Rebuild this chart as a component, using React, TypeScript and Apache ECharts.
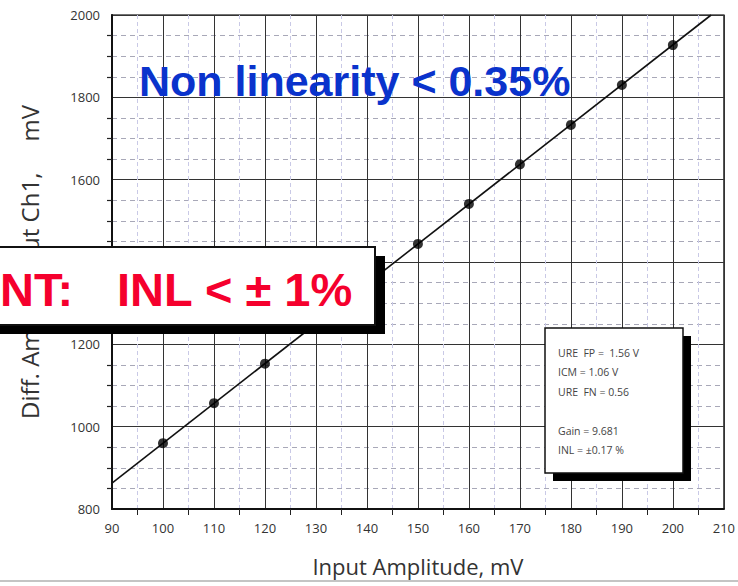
import React, { useEffect, useRef } from "react";
import * as echarts from "echarts";

// Measured transfer points (input amplitude, mV -> differential amp output, mV)
const inputMv = [100, 110, 120, 130, 140, 150, 160, 170, 180, 190, 200];
const outputMv = [960, 1057, 1153, 1250, 1347, 1444, 1541, 1637, 1733, 1830, 1927];

// Linear fit drawn across the plot
const fitX = [90, 207.5];
const fitY = [863, 2000];

const xTicks = { min: 90, max: 210, step: 10 };
const yTicks = { min: 800, max: 2000, step: 200 };

const statsLines = [
  "URE  FP =  1.56 V",
  "ICM = 1.06 V",
  "URE  FN = 0.56",
  "",
  "Gain = 9.681",
  "INL = ±0.17 %",
];

const axisFont = "'Open Sans', 'Noto Sans', sans-serif";

export default function App() {
  const ref = useRef<HTMLDivElement>(null);

  useEffect(() => {
    if (!ref.current) return;
    const chart = echarts.init(ref.current, undefined, { renderer: "svg" });

    const statsText = statsLines.map((t, i) => ({
      type: "text",
      z: 20,
      style: {
        x: 558,
        y: 353 + i * 19.4,
        text: t,
        fill: "#444",
        font: `10.5px ${axisFont}`,
        textVerticalAlign: "middle",
      },
    }));

    chart.setOption({
      animation: false,
      backgroundColor: "#ffffff",
      grid: { left: 112, top: 15, width: 612, height: 494, show: true, borderColor: "#444", borderWidth: 1.5 },
      xAxis: {
        type: "value",
        min: xTicks.min,
        max: xTicks.max,
        interval: xTicks.step,
        name: "Input Amplitude, mV",
        nameLocation: "middle",
        nameGap: 46,
        nameTextStyle: { fontFamily: axisFont, fontSize: 22, color: "#333" },
        axisLine: { lineStyle: { color: "#111", width: 2 } },
        axisTick: { show: false },
        minorTick: { show: true, splitNumber: 2, length: 6, lineStyle: { color: "#222", width: 1 } },
        axisLabel: { fontFamily: axisFont, fontSize: 13, color: "#333", margin: 12 },
        splitLine: { show: true, lineStyle: { color: "#333", width: 1 } },
        minorSplitLine: { show: true, lineStyle: { color: "#c9c9e6", width: 1, type: [4, 3] } },
      },
      yAxis: {
        type: "value",
        min: yTicks.min,
        max: yTicks.max,
        interval: yTicks.step,
        name: "Diff. Amp Output Ch1,     mV",
        nameLocation: "middle",
        nameRotate: 90,
        nameGap: 71,
        nameTextStyle: { fontFamily: axisFont, fontSize: 24, color: "#333" },
        axisLine: { show: true, lineStyle: { color: "#111", width: 2 } },
        axisTick: { show: false },
        minorTick: { show: true, splitNumber: 4, length: 5, lineStyle: { color: "#222", width: 1.2 } },
        axisLabel: {
          fontFamily: axisFont,
          fontSize: 13,
          color: "#333",
          margin: 12,
          formatter: (v: number) => String(v),
        },
        splitLine: { show: true, lineStyle: { color: "#333", width: 1 } },
        minorSplitLine: { show: true, lineStyle: { color: "#a8a8b8", width: 1, type: [5, 4] } },
      },
      series: [
        {
          type: "line",
          data: fitX.map((x, i) => [x, fitY[i]]),
          symbol: "none",
          lineStyle: { color: "#111", width: 1.6 },
          clip: true,
          z: 3,
        },
        {
          type: "scatter",
          data: inputMv.map((x, i) => [x, outputMv[i]]),
          symbol: "circle",
          symbolSize: 10,
          itemStyle: { color: "#000" },
          z: 4,
        },
      ],
      graphic: [
        {
          type: "text",
          z: 20,
          style: {
            x: 139,
            y: 81,
            text: "Non linearity < 0.35%",
            fill: "#0a33cc",
            font: "bold 43px 'Liberation Sans', Arial, sans-serif",
            textVerticalAlign: "middle",
          },
        },
        { type: "rect", z: 18, shape: { x: -2, y: 256, width: 387, height: 78 }, style: { fill: "#000" } },
        { type: "rect", z: 19, shape: { x: -10, y: 247, width: 385, height: 78 }, style: { fill: "#fff", stroke: "#111", lineWidth: 2 } },
        {
          type: "text",
          z: 20,
          style: {
            x: 0,
            y: 289,
            text: "NT:",
            fill: "#f5002d",
            font: "bold 47px 'Liberation Sans', Arial, sans-serif",
            textVerticalAlign: "middle",
          },
        },
        {
          type: "text",
          z: 20,
          style: {
            x: 117,
            y: 289,
            text: "INL < ± 1%",
            fill: "#f5002d",
            font: "bold 47px 'Liberation Sans', Arial, sans-serif",
            textVerticalAlign: "middle",
          },
        },
        { type: "rect", z: 18, shape: { x: 553, y: 336, width: 138, height: 145 }, style: { fill: "#000" } },
        { type: "rect", z: 19, shape: { x: 545, y: 328, width: 138, height: 145 }, style: { fill: "#fff", stroke: "#111", lineWidth: 1.5 } },
        ...statsText,
        { type: "line", z: 20, shape: { x1: 0, y1: 581, x2: 738, y2: 581 }, style: { stroke: "#c4c4c4", lineWidth: 2 } },
      ],
    });

    return () => chart.dispose();
  }, []);

  return (
    <div
      ref={ref}
      style={{ position: "absolute", left: 0, top: 0, width: 738, height: 586 }}
    />
  );
}
